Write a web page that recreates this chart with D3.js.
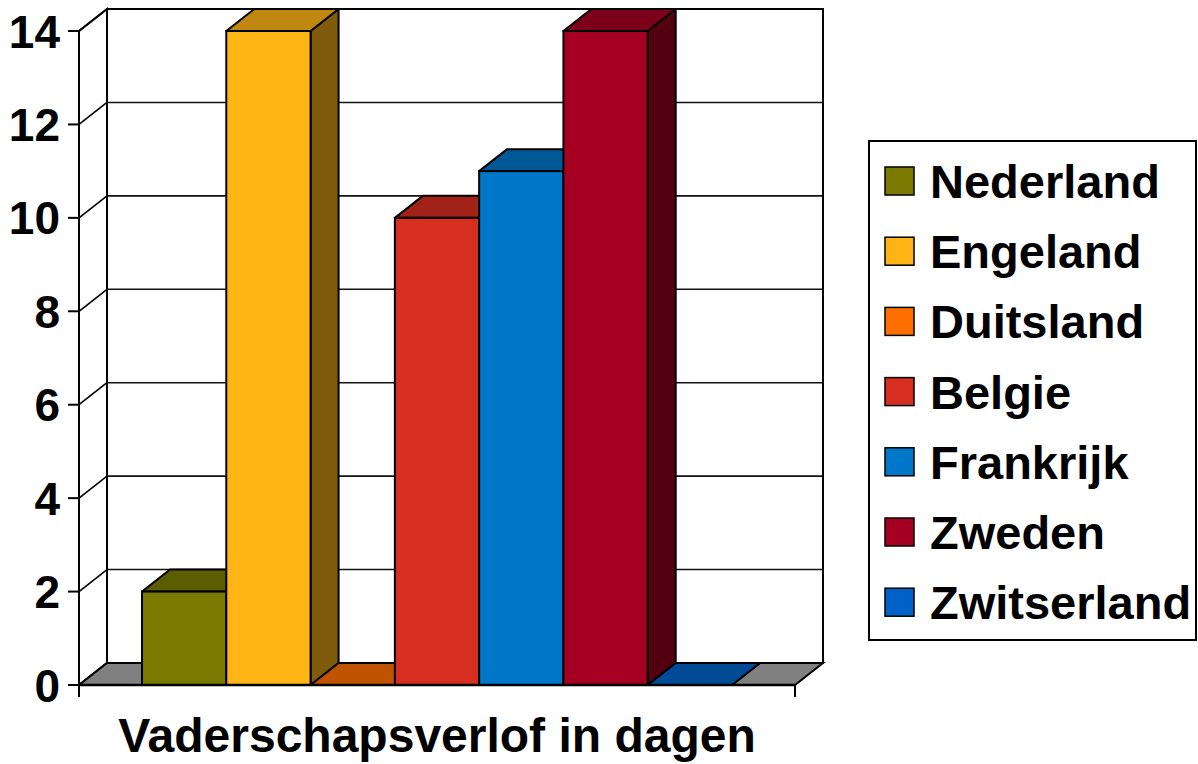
<!DOCTYPE html>
<html>
<head>
<meta charset="utf-8">
<script src="https://cdn.jsdelivr.net/npm/d3@7"></script>
<style>
  html, body { margin: 0; padding: 0; background: #fff; }
  svg { display: block; font-family: "Liberation Sans", Arial, sans-serif; font-weight: bold; }
</style>
</head>
<body>
<div id="chart"></div>
<script>
const categories = ['Vaderschapsverlof in dagen'];
const countries = ['Nederland', 'Engeland', 'Duitsland', 'Belgie', 'Frankrijk', 'Zweden', 'Zwitserland'];
const days = [2, 14, 0, 10, 11, 14, 0];
const colors = ['#7a7a00', '#ffb515', '#ff6f00', '#d62e20', '#0077c8', '#a50021', '#0062c8'];
const yTicks = [0, 2, 4, 6, 8, 10, 12, 14];

const width = 1198, height = 764;
const depth = { dx: 28, dy: -22 };

const svg = d3.select('#chart').append('svg')
  .attr('width', width)
  .attr('height', height);

const y = d3.scaleLinear().domain([0, 14]).range([685, 31]);
const x0 = d3.scaleBand().domain(categories).range([79, 795]).paddingOuter(0.1068).paddingInner(0);
const x1 = d3.scaleBand().domain(countries).range([0, x0.bandwidth()]);
const left = 79, right = 795;

const pt = (px, py) => px + ',' + py;
const back = (px, py) => pt(px + depth.dx, py + depth.dy);

// walls
const walls = svg.append('g');
walls.append('polygon')
  .attr('points', [back(left, y(14)), back(right, y(14)), back(right, y(0)), back(left, y(0))].join(' '))
  .attr('fill', '#fff').attr('stroke', '#000').attr('stroke-width', 2);
walls.append('polygon')
  .attr('points', [pt(left, y(14)), back(left, y(14)), back(left, y(0)), pt(left, y(0))].join(' '))
  .attr('fill', '#fff').attr('stroke', '#000').attr('stroke-width', 2);

// gridlines on back and side walls
yTicks.filter(t => t > 0 && t < 14).forEach(t => {
  walls.append('line')
    .attr('x1', left + depth.dx).attr('x2', right + depth.dx)
    .attr('y1', y(t) + depth.dy).attr('y2', y(t) + depth.dy)
    .attr('stroke', '#111').attr('stroke-width', 1.6);
});
yTicks.forEach(t => {
  walls.append('line')
    .attr('x1', left).attr('y1', y(t))
    .attr('x2', left + depth.dx).attr('y2', y(t) + depth.dy)
    .attr('stroke', '#000').attr('stroke-width', 1.6);
});

// floor
walls.append('polygon')
  .attr('points', [pt(left, y(0)), pt(right, y(0)), back(right, y(0)), back(left, y(0))].join(' '))
  .attr('fill', '#808080').attr('stroke', '#000').attr('stroke-width', 2);

// bars
const bars = svg.append('g');
countries.forEach((c, i) => {
  const xl = x0(categories[0]) + x1(c);
  const xr = xl + x1.bandwidth();
  const yt = y(days[i]), yb = y(0);
  const col = colors[i];
  const base = d3.rgb(col);
  const top = d3.rgb(base.r * 0.75, base.g * 0.75, base.b * 0.75);
  const side = d3.rgb(base.r * 0.5, base.g * 0.5, base.b * 0.5);
  const g = bars.append('g');
  g.append('polygon')
    .attr('points', [pt(xr, yt), back(xr, yt), back(xr, yb), pt(xr, yb)].join(' '))
    .attr('fill', side).attr('stroke', '#000').attr('stroke-width', 2).attr('stroke-linejoin', 'round');
  g.append('polygon')
    .attr('points', [pt(xl, yt), pt(xr, yt), back(xr, yt), back(xl, yt)].join(' '))
    .attr('fill', top).attr('stroke', '#000').attr('stroke-width', 2).attr('stroke-linejoin', 'round');
  if (days[i] > 0) {
    g.append('rect')
      .attr('x', xl).attr('y', yt)
      .attr('width', xr - xl).attr('height', yb - yt)
      .attr('fill', col).attr('stroke', '#000').attr('stroke-width', 2);
  }
});

// axes
const axes = svg.append('g');
axes.append('line').attr('x1', left).attr('x2', left).attr('y1', y(14)).attr('y2', y(0) + 12)
  .attr('stroke', '#000').attr('stroke-width', 2);
axes.append('line').attr('x1', left).attr('x2', right).attr('y1', y(0)).attr('y2', y(0))
  .attr('stroke', '#000').attr('stroke-width', 2.5);
axes.append('line').attr('x1', right).attr('x2', right).attr('y1', y(0)).attr('y2', y(0) + 12)
  .attr('stroke', '#000').attr('stroke-width', 2);
yTicks.forEach(t => {
  axes.append('line').attr('x1', left - 11).attr('x2', left).attr('y1', y(t)).attr('y2', y(t))
    .attr('stroke', '#000').attr('stroke-width', 2);
  axes.append('text')
    .attr('x', 60).attr('y', y(t)).attr('dy', '0.36em')
    .attr('text-anchor', 'end').attr('font-size', 46)
    .text(t);
});
axes.append('text')
  .attr('x', x0(categories[0]) + x0.bandwidth() / 2).attr('y', 752)
  .attr('text-anchor', 'middle').attr('font-size', 48)
  .text(categories[0]);

// legend
const legend = svg.append('g');
legend.append('rect')
  .attr('x', 869).attr('y', 141).attr('width', 327).attr('height', 499)
  .attr('fill', '#fff').attr('stroke', '#000').attr('stroke-width', 2);
countries.forEach((c, i) => {
  const cy = 181 + i * 70.2;
  legend.append('rect')
    .attr('x', 885).attr('y', cy - 14).attr('width', 29).attr('height', 28)
    .attr('fill', colors[i]).attr('stroke', '#000').attr('stroke-width', 1.5);
  legend.append('text')
    .attr('x', 930).attr('y', cy).attr('dy', '0.36em')
    .attr('font-size', 47)
    .text(c);
});
</script>
</body>
</html>
